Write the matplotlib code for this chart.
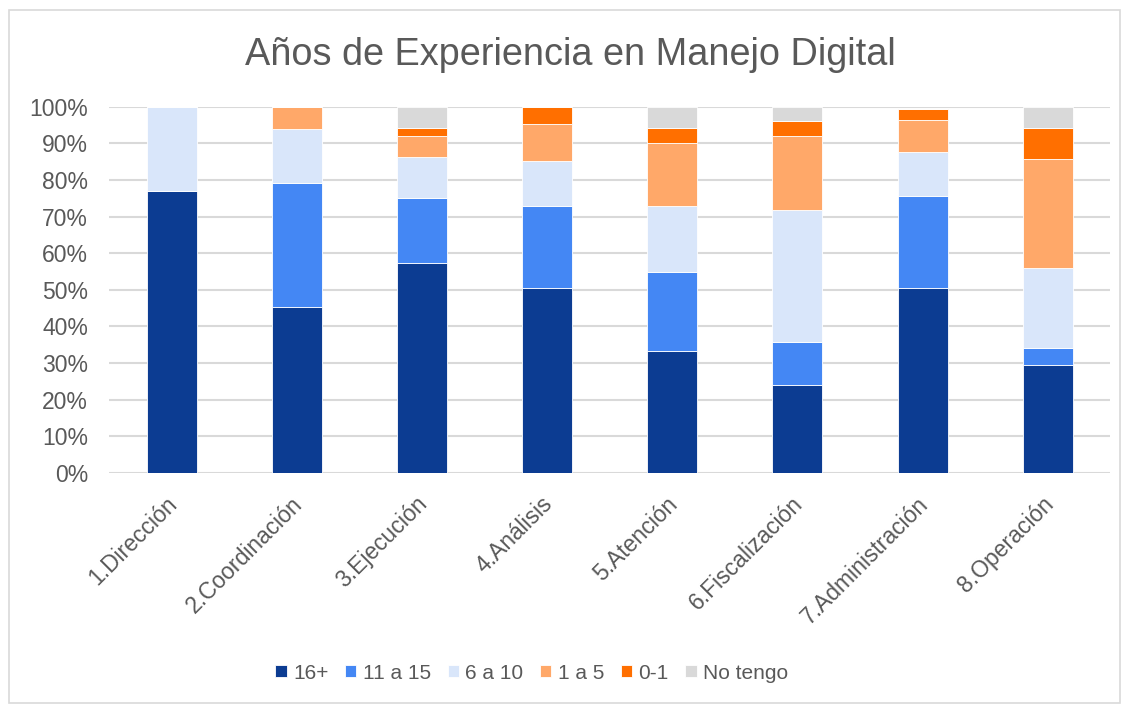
import matplotlib.pyplot as plt
from matplotlib.patches import Rectangle
import matplotlib.transforms as mtransforms
import numpy as np

plt.rcParams['font.family'] = ['Liberation Sans', 'DejaVu Sans']

categorias = ["1.Dirección", "2.Coordinación", "3.Ejecución", "4.Análisis",
              "5.Atención", "6.Fiscalización", "7.Administración", "8.Operación"]

# porcentajes por rango de años
s16 = [77.0, 45.3, 57.3, 50.6, 33.2, 23.9, 50.6, 29.6]
s11_15 = [0.0, 33.8, 17.8, 22.4, 21.6, 11.8, 24.9, 4.4]
s6_10 = [23.0, 14.9, 11.1, 12.1, 18.2, 36.2, 12.1, 21.9]
s1_5 = [0.0, 6.0, 5.7, 10.3, 17.0, 20.0, 8.9, 29.9]
s0_1 = [0.0, 0.0, 2.4, 4.6, 4.3, 4.3, 2.9, 8.3]
no_tengo = [0.0, 0.0, 5.7, 0.0, 5.7, 3.8, 0.0, 5.9]

series = [s16, s11_15, s6_10, s1_5, s0_1, no_tengo]
nombres = ["16+", "11 a 15", "6 a 10", "1 a 5", "0-1", "No tengo"]
colores = ["#0C3C92", "#4487F4", "#D9E6FA", "#FFA869", "#FF6F00", "#D9D9D9"]

gris = "#595959"

fig = plt.figure(figsize=(11.29, 7.07), dpi=100)
ax = fig.add_axes([0.0965, 0.331, 0.887, 0.518])

x = np.arange(len(categorias))
base = np.zeros(len(categorias))
for vals, nom, col in zip(series, nombres, colores):
    vals = np.array(vals)
    ax.bar(x, vals, width=0.4, bottom=base, color=col, label=nom,
           edgecolor="white", linewidth=0.6, zorder=3)
    base += vals

ax.set_xlim(-0.5, 7.5)
ax.set_ylim(0, 100)
ax.set_yticks(np.arange(0, 101, 10))
ax.set_yticklabels([f"{v}%" for v in range(0, 101, 10)])
ax.yaxis.grid(True, color="#D9D9D9", linewidth=1.5, zorder=0)
ax.set_axisbelow(True)
for s in ax.spines.values():
    s.set_visible(False)
ax.tick_params(axis="both", length=0, labelcolor=gris)
ax.tick_params(axis="y", pad=15, labelsize=16.5)
ax.set_xticks(x)
ax.set_xticklabels(categorias, rotation=45, ha="right", rotation_mode="anchor")
ax.tick_params(axis="x", pad=14, labelsize=16.5)
desplaza = mtransforms.ScaledTranslation(-0.06, 0, fig.dpi_scale_trans)
for lbl in ax.get_xticklabels():
    lbl.set_transform(lbl.get_transform() + desplaza)

fig.suptitle("Años de Experiencia en Manejo Digital", fontsize=27.3, color=gris,
             y=0.947, x=0.505)

fig.legend(loc="center", bbox_to_anchor=(0.471, 0.048), ncol=6, frameon=False,
           fontsize=15, labelcolor=gris, handlelength=0.55, handleheight=0.55,
           handletextpad=0.3, columnspacing=0.8)

fig.patches.append(Rectangle((0.008, 0.006), 0.984, 0.98, transform=fig.transFigure,
                             fill=False, edgecolor="#D9D9D9", linewidth=1.2))

fig.savefig("out.png", dpi=100)
